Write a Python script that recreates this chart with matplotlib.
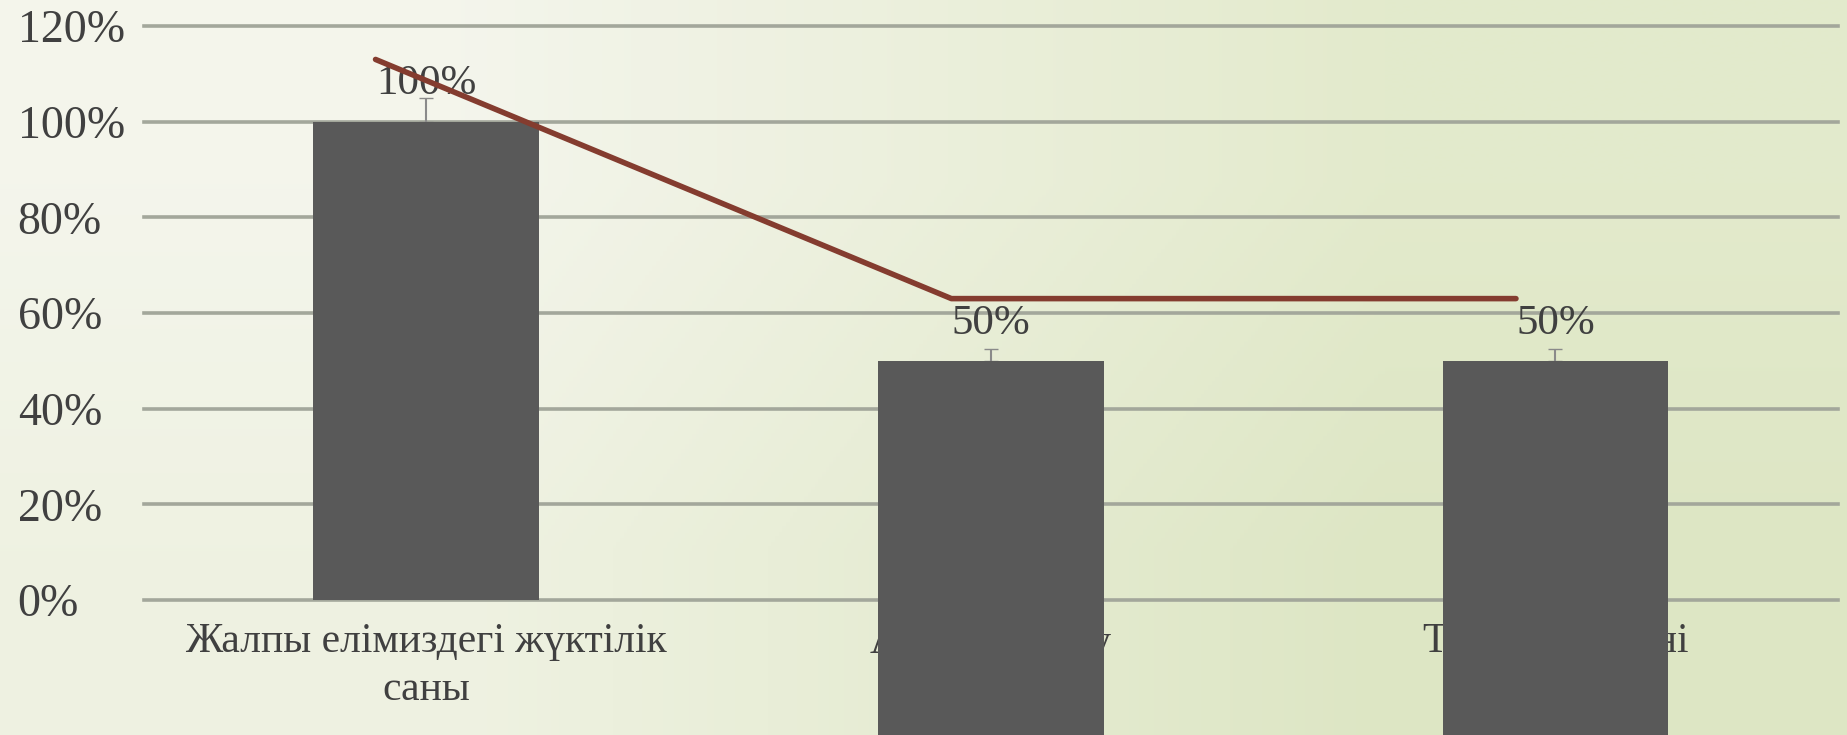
import numpy as np
import matplotlib
matplotlib.use("Agg")
import matplotlib.pyplot as plt
from matplotlib.ticker import FuncFormatter

plt.rcParams['font.family'] = ['Liberation Serif', 'DejaVu Serif']

# data
categories = ["Жалпы елімиздегі жүктілік\nсаны", "Аборт жасату", "Түсік түсіргені"]
bar_values = [1.00, 0.50, 0.50]
bar_errors = [0.05, 0.025, 0.025]
bar_labels = ["100%", "50%", "50%"]
line_pos = [-0.09, 0.93, 1.93]
line_values = [1.13, 0.63, 0.63]
# the two right bars run off the bottom of the slide in the original
bar_bottoms = [0.0, -0.35, -0.35]
yticks = [0, 0.2, 0.4, 0.6, 0.8, 1.0, 1.2]

text_col = "#404040"
bar_col = "#595959"
grid_col = "#a3a79b"
line_col = "#843c2f"

fig = plt.figure(figsize=(18.47, 7.35), dpi=100)

# background gradient
bg = fig.add_axes([0, 0, 1, 1], zorder=-1)
grad = np.array([[[0.957, 0.961, 0.925], [0.890, 0.918, 0.800]],
                 [[0.937, 0.949, 0.886], [0.867, 0.902, 0.769]]])
bg.imshow(grad, aspect='auto', interpolation='bilinear', extent=[0, 1, 0, 1])
bg.axis('off')

ax = fig.add_axes([0.078, 0.1837, 0.917, 0.781])
ax.set_facecolor('none')
x = np.arange(len(categories))

for y in yticks:
    ax.axhline(y, color=grid_col, lw=2.6, zorder=0.5, clip_on=False)

heights = [v - b for v, b in zip(bar_values, bar_bottoms)]
ax.bar(x, heights, bottom=bar_bottoms, width=0.40, color=bar_col, zorder=3, clip_on=False)
ax.errorbar(x, bar_values, yerr=[[0, 0, 0], bar_errors], fmt='none', ecolor="#8a8a8a",
            elinewidth=1.5, capsize=5, zorder=2.8)

for xi, v, lab in zip(x, bar_values, bar_labels):
    ax.annotate(lab, (xi, v), xytext=(0, 27), textcoords='offset points',
                ha='center', va='center', fontsize=31, color=text_col, zorder=4)

ax.plot(line_pos, line_values, color=line_col, lw=4, solid_capstyle='round', zorder=5)

ax.set_xlim(-0.5, 2.5)
ax.set_ylim(0, 1.2)
ax.set_xticks(x)
ax.set_xticklabels(categories, fontsize=30, color=text_col, linespacing=1.33)
ax.set_yticks(yticks)
ax.yaxis.set_major_formatter(FuncFormatter(lambda v, p: f"{v * 100:.0f}%"))
ax.tick_params(axis='y', length=0, pad=91, labelsize=33, labelcolor=text_col)
ax.tick_params(axis='x', length=0, pad=16)
for t in ax.get_yticklabels():
    t.set_horizontalalignment('left')
for s in ax.spines.values():
    s.set_visible(False)

fig.savefig("out.png", dpi=100)
